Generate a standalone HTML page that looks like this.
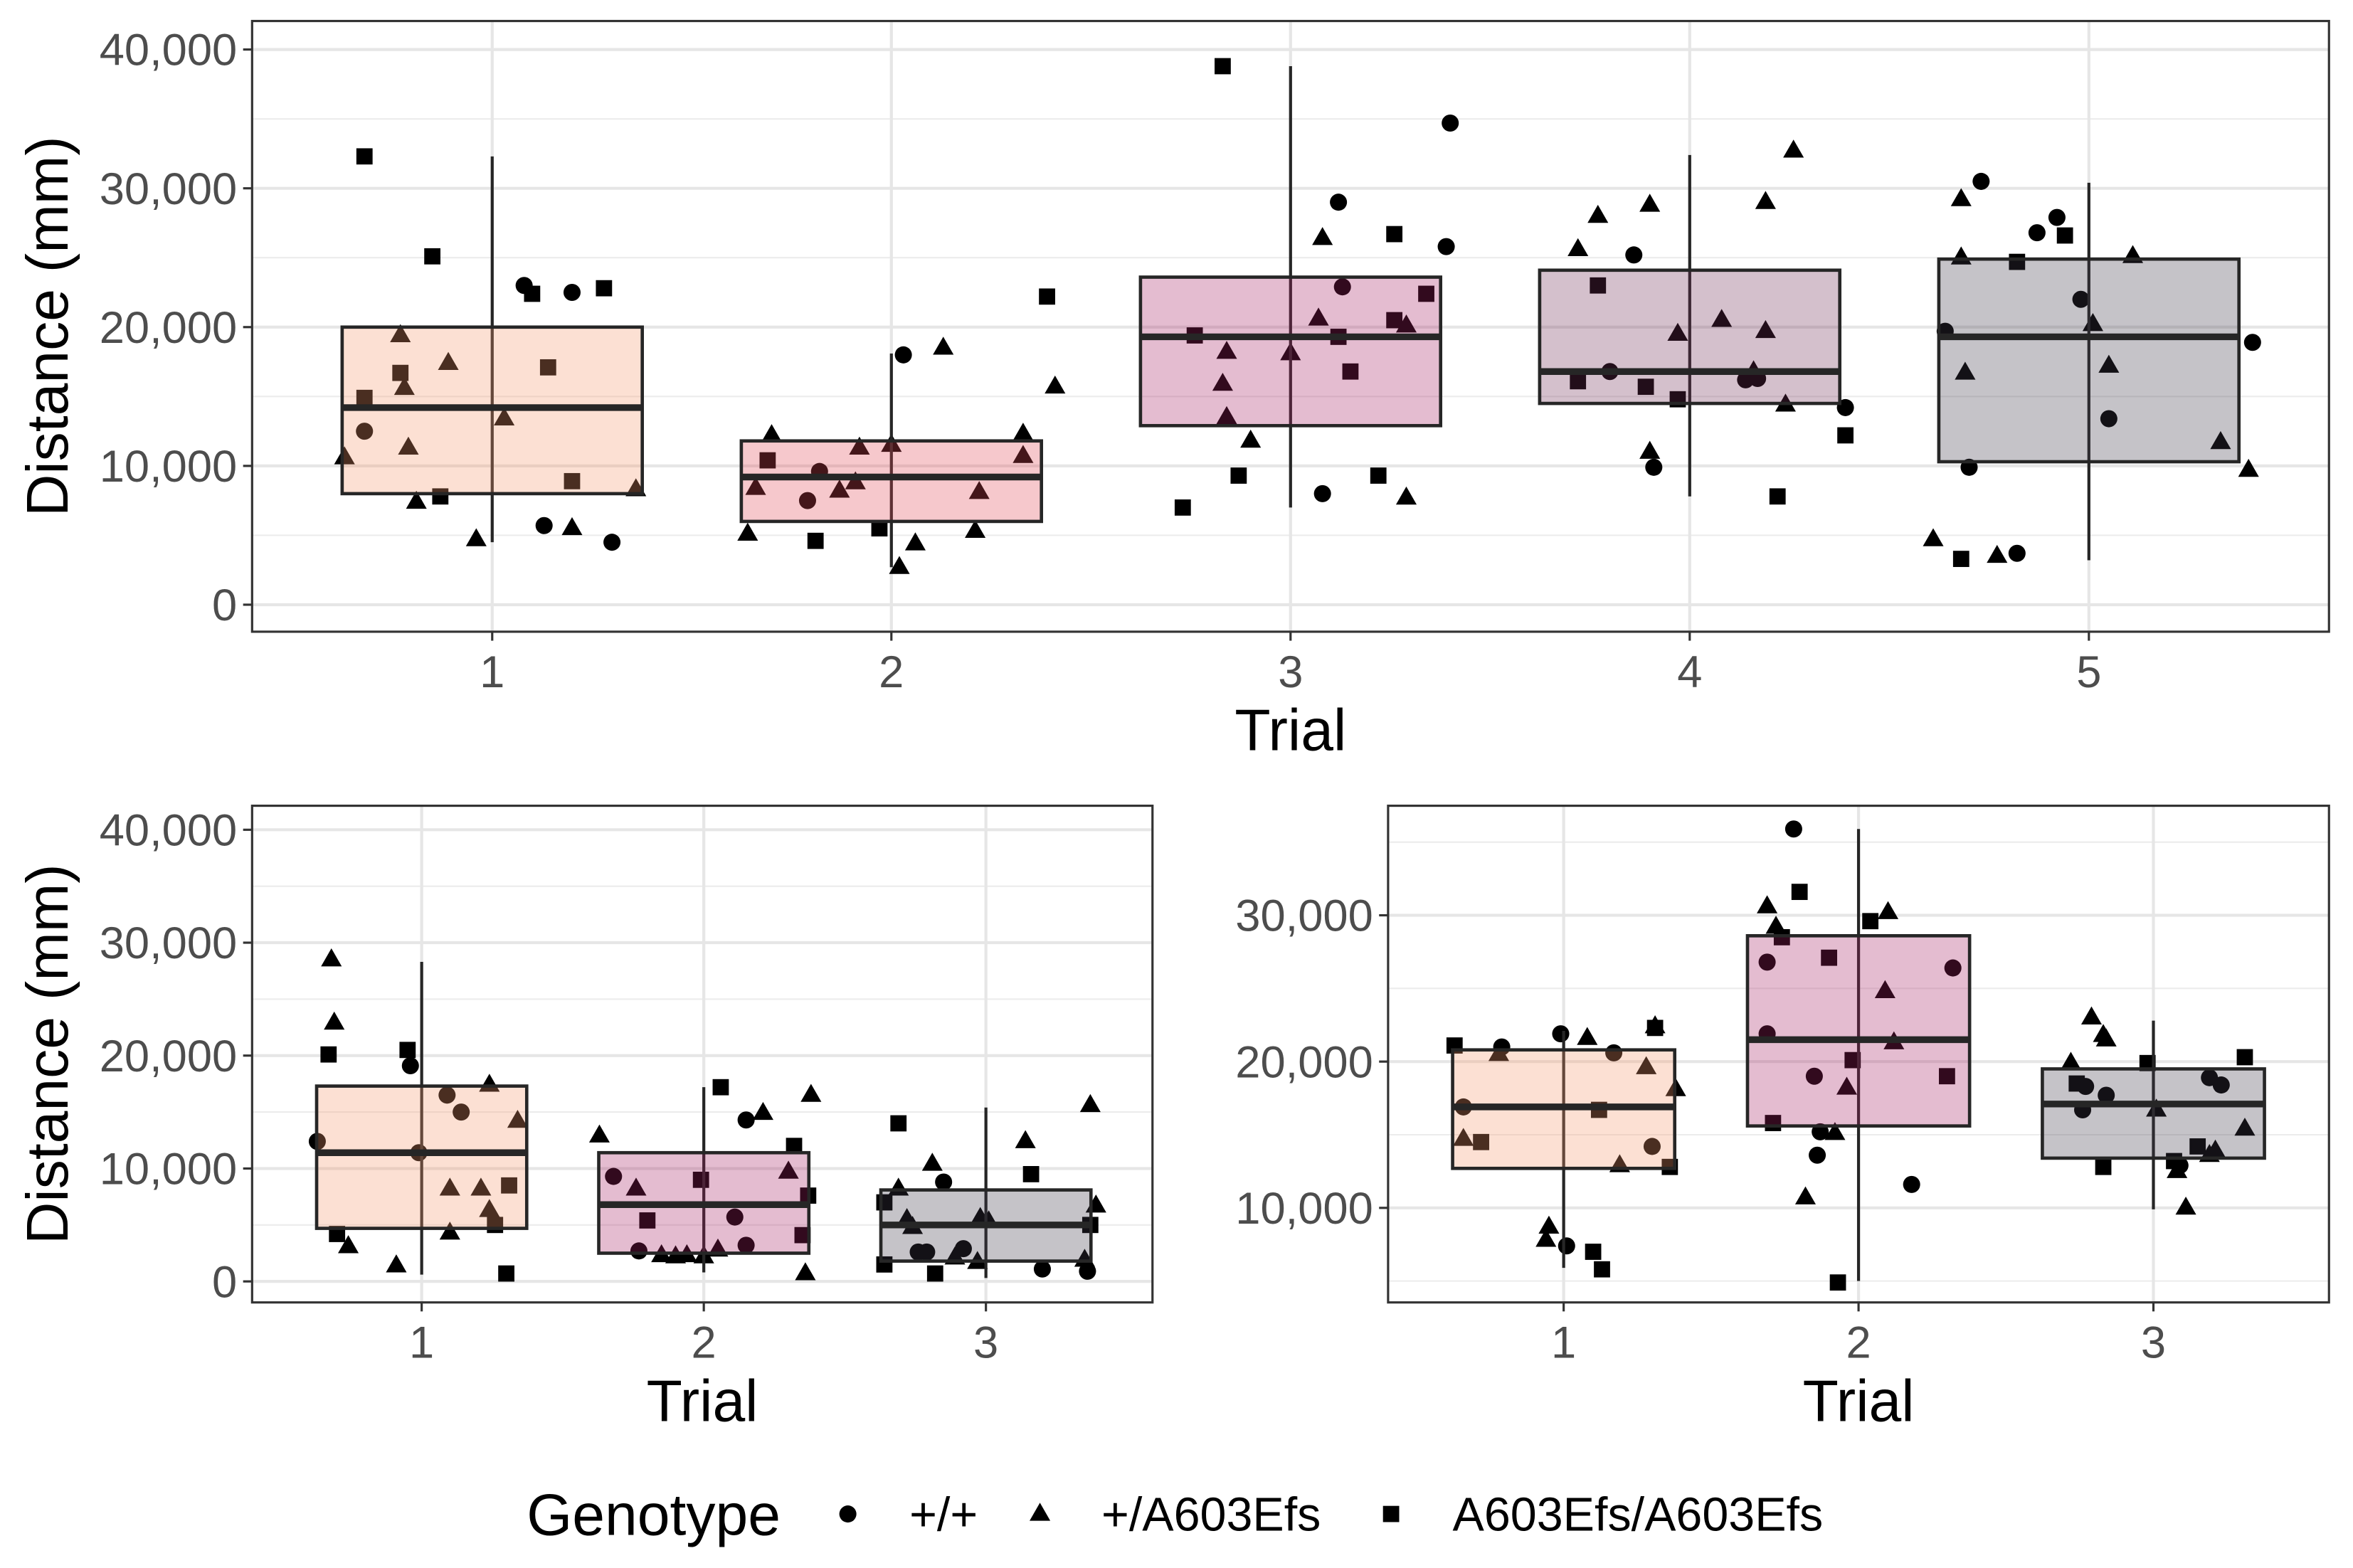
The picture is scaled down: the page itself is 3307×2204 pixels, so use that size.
<!DOCTYPE html>
<html><head><meta charset="utf-8"><style>
html,body{margin:0;padding:0;background:#fff}
svg{display:block}
text{font-family:"Liberation Sans",Arial,sans-serif}
</style></head><body>
<svg id="chart" width="3307" height="2204" viewBox="0 0 1568 1045" preserveAspectRatio="none" xmlns="http://www.w3.org/2000/svg"></svg>
<script>
// ---------- DATA ----------
const yTicksA = [0, 10000, 20000, 30000, 40000];
const yTicksC = [10000, 20000, 30000];
const trialsTop = [1, 2, 3, 4, 5];
const trialsBot = [1, 2, 3];
// box stats: [q1, median, q3, whiskerLow, whiskerHigh]
const boxesTop = [[8000,14200,20000,4500,32300],[6000,9200,11800,2700,18100],[12900,19300,23600,7000,38800],[14500,16800,24100,7800,32400],[10300,19300,24900,3200,30400]];
const boxesBL = [[4700,11400,17300,600,28300],[2500,6800,11400,800,17200],[1800,5000,8100,300,15400]];
const boxesBR = [[12700,16900,20800,5900,22100],[15600,21500,28600,5000,35900],[13400,17100,19500,9900,22800]];
const fillsTop = ['#f5986c','#e14855','#a52062','#702d55','#3e3748'];
const fillsBot = ['#f5986c','#a52062','#3e3748'];
// points: [x (trial + jitter), distance, shape 0=+/+ 1=+/A603Efs 2=A603Efs/A603Efs]
const ptsTop = [
[0.68,32300,2],[1.08,23000,0],[1.10,22400,2],[1.20,22500,0],[1.28,22800,2],[0.85,25100,2],[0.77,19400,1],[0.89,17400,1],[0.77,16700,2],[1.14,17100,2],[0.78,15600,1],[0.68,14900,2],[1.03,13400,1],[0.68,12500,0],[0.79,11300,1],[0.63,10600,1],[1.20,8900,2],[1.36,8300,1],[0.87,7800,2],[0.81,7400,1],[1.13,5700,0],[1.20,5500,1],[0.96,4700,1],[1.30,4500,0],
[1.64,5100,1],[1.70,12200,1],[1.66,8400,1],[1.69,10400,2],[1.79,7500,0],[1.82,9600,0],[1.87,8200,1],[1.91,8800,1],[1.92,11300,1],[1.81,4600,2],[1.97,5500,2],[2.00,11500,1],[2.02,2700,1],[2.06,4400,1],[2.03,18000,0],[2.13,18500,1],[2.22,8100,1],[2.21,5300,1],[2.33,12300,1],[2.33,10700,1],[2.39,22200,2],[2.41,15700,1],
[2.83,38800,2],[2.73,7000,2],[2.76,19400,2],[2.84,18200,1],[2.83,15900,1],[2.84,13500,1],[2.90,11800,1],[2.87,9300,2],[3.00,18100,1],[3.08,26400,1],[3.12,29000,0],[3.13,22900,0],[3.07,20600,1],[3.12,19300,2],[3.15,16800,2],[3.08,8000,0],[3.26,26700,2],[3.26,20500,2],[3.29,20100,1],[3.34,22400,2],[3.22,9300,2],[3.29,7700,1],[3.40,34700,0],[3.39,25800,0],
[3.72,25600,1],[3.77,28000,1],[3.77,23000,2],[3.86,25200,0],[3.90,28800,1],[3.80,16800,0],[3.90,11000,1],[3.91,9900,0],[3.89,15700,2],[3.97,19500,1],[3.97,14800,2],[4.08,20500,1],[4.19,19700,1],[4.16,16800,1],[4.14,16200,0],[4.17,16300,0],[4.19,29000,1],[4.24,14400,1],[4.22,7800,2],[3.72,16100,2],[4.26,32700,1],[4.39,14200,0],[4.39,12200,2],
[4.61,4700,1],[4.68,3300,2],[4.77,3500,1],[4.82,3700,0],[4.64,19700,0],[4.68,25000,1],[4.68,29200,1],[4.69,16700,1],[4.70,9900,0],[4.73,30500,0],[4.82,24700,2],[4.87,26800,0],[4.92,27900,0],[4.94,26600,2],[4.98,22000,0],[5.01,20200,1],[5.05,17200,1],[5.05,13400,0],[5.11,25100,1],[5.33,11700,1],[5.41,18900,0],[5.40,9700,1]];
const ptsBL = [
[0.68,28500,1],[0.69,22900,1],[0.67,20100,2],[0.63,12400,0],[0.70,4200,2],[0.74,3100,1],[0.91,1400,1],[0.95,20500,2],[0.96,19100,0],[0.99,11400,0],[1.09,16500,0],[1.14,15000,0],[1.10,8200,1],[1.10,4300,1],[1.21,8200,1],[1.24,17400,1],[1.24,6300,1],[1.26,5000,2],[1.34,14200,1],[1.31,8500,2],[1.30,700,2],
[1.63,12900,1],[1.68,9300,0],[1.76,8200,1],[1.77,2700,0],[1.80,5400,2],[1.85,2300,1],[1.90,2200,1],[1.94,2300,1],[2.00,2200,1],[2.05,2800,1],[1.99,9000,2],[2.15,14300,0],[2.21,14900,1],[2.06,17200,2],[2.11,5700,0],[2.15,3200,0],[2.30,9700,1],[2.32,12000,2],[2.37,7600,2],[2.35,4100,2],[2.36,700,1],[2.38,16500,1],
[2.69,14000,2],[2.69,8200,1],[2.64,7000,2],[2.64,1500,2],[2.72,5500,1],[2.74,4800,1],[2.76,2600,0],[2.79,2600,0],[2.81,10400,1],[2.85,8800,0],[2.82,700,2],[2.89,2100,1],[2.92,2900,0],[2.97,1700,1],[2.98,5600,1],[3.01,5300,1],[3.14,12400,1],[3.16,9500,2],[3.20,1100,0],[3.35,1900,1],[3.36,900,0],[3.37,15600,1],[3.39,6700,1],[3.37,5000,2]];
const ptsBR = [
[0.63,21100,2],[0.66,14700,1],[0.66,16900,0],[0.72,14500,2],[0.79,21000,0],[0.78,20500,1],[0.95,8700,1],[0.94,7800,1],[1.01,7400,0],[0.99,21900,0],[1.08,21600,1],[1.10,7000,2],[1.13,5800,2],[1.12,16700,2],[1.17,20600,0],[1.19,12900,1],[1.28,19600,1],[1.30,14200,0],[1.31,22300,2],[1.31,22400,1],[1.38,18100,1],[1.36,12800,2],
[1.78,35900,0],[1.80,31600,2],[1.69,30600,1],[1.72,29200,1],[1.74,28500,2],[1.69,26800,0],[1.69,21900,0],[1.85,19000,0],[1.82,10700,1],[1.86,13600,0],[1.71,15800,2],[1.87,15200,0],[1.92,15100,1],[1.90,27100,2],[1.96,18200,1],[1.98,20100,2],[1.93,4900,2],[2.04,29600,2],[2.10,30200,1],[2.09,24800,1],[2.12,21300,1],[2.18,11600,0],[2.30,19000,2],[2.32,26400,0],
[2.72,19900,1],[2.79,23000,1],[2.83,21800,1],[2.84,21500,1],[2.76,16700,0],[2.74,18500,2],[2.77,18300,0],[2.84,17700,0],[2.83,12800,2],[2.98,19900,2],[3.01,16700,1],[3.07,13200,2],[3.08,12500,1],[3.09,12900,0],[3.15,14200,2],[3.19,13600,1],[3.21,13900,1],[3.11,10000,1],[3.19,18900,0],[3.23,18400,0],[3.31,20300,2],[3.31,15400,1]];
const legendLabels = ['+/+', '+/A603Efs', 'A603Efs/A603Efs'];

// ---------- DRAWING ----------
const NS = 'http://www.w3.org/2000/svg';
const svg = document.getElementById('chart');
function mk(tag, attrs, parent) {
  const e = document.createElementNS(NS, tag);
  for (const k in attrs) e.setAttribute(k, attrs[k]);
  (parent || svg).appendChild(e);
  return e;
}
function fmt(v) { return v.toLocaleString('en-US'); }

function shape(g, s, cx, cy, r) {
  let e;
  if (s === 0) e = mk('circle', {cx: cx, cy: cy, r: r * 0.95, fill: '#000'}, g);
  else if (s === 1) e = mk('polygon', {points: `${cx},${cy - r * 1.25} ${cx - r * 1.15},${cy + r * 0.75} ${cx + r * 1.15},${cy + r * 0.75}`, fill: '#000'}, g);
  else e = mk('rect', {x: cx - r * 0.9, y: cy - r * 0.9, width: r * 1.8, height: r * 1.8, fill: '#000'}, g);
  return e;
}

function panel(name, L, T, R, B, xmin, xmax, ymin, ymax, yticks, trials, boxes, fills, pts, halfW, showYTitle, titleX) {
  const g = mk('g', {});
  
  
  const sx = v => L + (v - xmin) / (xmax - xmin) * (R - L);
  const sy = v => B - (v - ymin) / (ymax - ymin) * (B - T);
  const step = yticks[1] - yticks[0];
  for (let v = yticks[0] - step / 2; v <= ymax; v += step) {
    if (v < ymin) continue;
    const ln = mk('line', {x1: L, x2: R, y1: sy(v), y2: sy(v), stroke: '#ececec', 'stroke-width': 1}, g);
    
    
  }
  yticks.forEach(v => {
    const ln = mk('line', {x1: L, x2: R, y1: sy(v), y2: sy(v), stroke: '#e6e6e6', 'stroke-width': 2}, g);
    
    
    const tk = mk('line', {x1: L - 6, x2: L, y1: sy(v), y2: sy(v), stroke: '#333', 'stroke-width': 1.5}, g);
    
    
    const t = mk('text', {x: L - 10, y: sy(v) + 10.5, 'text-anchor': 'end', 'font-size': 30, fill: '#4d4d4d'}, g);
    t.textContent = fmt(v);
    
    
  });
  trials.forEach(tr => {
    const ln = mk('line', {x1: sx(tr), x2: sx(tr), y1: T, y2: B, stroke: '#e6e6e6', 'stroke-width': 2}, g);
    
    
    const tk = mk('line', {x1: sx(tr), x2: sx(tr), y1: B, y2: B + 6, stroke: '#333', 'stroke-width': 1.5}, g);
    
    
    const t = mk('text', {x: sx(tr), y: B + 37, 'text-anchor': 'middle', 'font-size': 30, fill: '#4d4d4d'}, g);
    t.textContent = tr;
    
    
  });
  pts.forEach(p => {
    const e = shape(g, p[2], sx(p[0]), sy(p[1]), 6);
    
    
  });
  boxes.forEach((b, i) => {
    const cx = sx(trials[i]);
    const wl = mk('line', {x1: cx, x2: cx, y1: sy(b[3]), y2: sy(b[4]), stroke: '#262626', 'stroke-width': 2}, g);
    
    
    const r = mk('rect', {x: cx - halfW, y: sy(b[2]), width: 2 * halfW, height: sy(b[0]) - sy(b[2]), fill: fills[i], 'fill-opacity': 0.3, stroke: '#262626', 'stroke-width': 2.2}, g);
    
    
    const m = mk('line', {x1: cx - halfW, x2: cx + halfW, y1: sy(b[1]), y2: sy(b[1]), stroke: '#262626', 'stroke-width': 4.5}, g);
    
    
  });
  const bd = mk('rect', {x: L, y: T, width: R - L, height: B - T, fill: 'none', stroke: '#333', 'stroke-width': 1.5}, g);
  
  
  const xt = mk('text', {x: (L + R) / 2, y: B + 79, 'text-anchor': 'middle', 'font-size': 39, fill: '#000'}, g);
  xt.textContent = 'Trial';
  
  
  if (showYTitle) {
    const cy = (T + B) / 2;
    const yt = mk('text', {x: titleX, y: cy, 'text-anchor': 'middle', 'font-size': 39, fill: '#000', transform: `rotate(-90 ${titleX} ${cy})`}, g);
    yt.textContent = 'Distance (mm)';
    
    
  }
}

panel('top-panel', 168, 14, 1552, 421, 1 - 160/266, 5 + 160/266, -1946, 42054, yTicksA, trialsTop, boxesTop, fillsTop, ptsTop, 100, true, 45);
panel('bottom-left-panel', 168, 537, 768, 868, 1 - 113/188, 3 + 111/188, -1860, 42126, yTicksA, trialsBot, boxesBL, fillsBot, ptsBL, 70, true, 45);
panel('bottom-right-panel', 925, 537, 1552, 868, 1 - 117/196.5, 3 + 117/196.5, 3538, 37487, yTicksC, trialsBot, boxesBR, fillsBot, ptsBR, 74, false, 0);

// legend
const lg = mk('g', {});


const lt = mk('text', {x: 351, y: 1023, 'font-size': 39, fill: '#000'}, lg);
lt.textContent = 'Genotype';


const symX = [565, 693, 927];
const labX = [606, 734, 968];
legendLabels.forEach((lab, i) => {
  const s = shape(lg, i, symX[i], 1009, 6);
  
  
  const t = mk('text', {x: labX[i], y: 1020, 'font-size': 31.5, fill: '#000'}, lg);
  t.textContent = lab;
  
  
});
</script>
</body></html>
